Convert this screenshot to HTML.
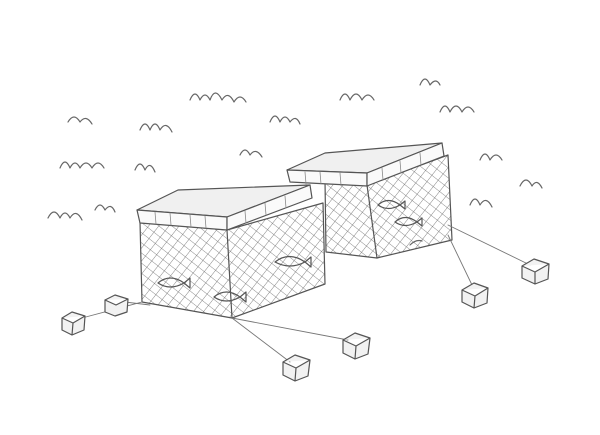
<!DOCTYPE html>
<html><head><meta charset="utf-8"><style>
html,body{margin:0;padding:0;background:#fff;}
svg{display:block}
</style></head><body>
<svg width="600" height="435" viewBox="0 0 600 435" xmlns="http://www.w3.org/2000/svg">
<defs>
<pattern id="net" width="8" height="8" patternUnits="userSpaceOnUse" patternTransform="rotate(38)">
<path d="M0 0 L8 0 M0 0 L0 8" stroke="#666" stroke-width="0.8" fill="none"/>
</pattern>
</defs>
<g fill="none" stroke="#555" stroke-width="1.2" stroke-linecap="round" stroke-linejoin="round">
<g stroke="#666">
<path d="M190 100 q5-12 10 0 q5-10 10 0 q5-14 12 0 q6-10 12 2 q6-10 12 0"/>
<path d="M340 100 q5-12 10 0 q6-12 12 0 q6-10 12 0"/>
<path d="M420 85 q5-12 10 0 q6-8 10 0"/>
<path d="M440 112 q5-12 10 0 q6-12 12 0 q6-10 12 0"/>
<path d="M68 122 q6-10 12 0 q6-8 12 2"/>
<path d="M140 130 q5-12 10 0 q5-12 10 0 q6-10 12 2"/>
<path d="M270 122 q5-12 10 0 q5-10 10 0 q6-8 10 2"/>
<path d="M60 168 q5-12 10 0 q5-10 10 0 q6-10 12 0 q6-10 12 0"/>
<path d="M135 170 q5-12 10 0 q5-10 10 2"/>
<path d="M240 155 q5-10 10 0 q6-8 12 2"/>
<path d="M480 160 q5-12 10 0 q6-10 12 0"/>
<path d="M520 186 q6-12 12 0 q5-8 10 2"/>
<path d="M470 205 q5-12 10 0 q6-10 12 2"/>
<path d="M48 218 q6-12 12 0 q5-10 10 0 q6-10 12 2"/>
<path d="M95 210 q5-10 10 0 q6-8 10 2"/>
<path d="M410 245 q6-6 12 -4"/>
</g>
<!-- left cage body -->
<path d="M140 222 L142 302 L232 318 L325 284 L323 203 L227 230 Z" fill="url(#net)"/>
<path d="M227 230 L232 318"/>
<!-- left lid -->
<path d="M137 210 L178 190 L310 185 L227 217 Z" fill="#f0f0f0"/>
<path d="M137 210 L227 217 L227 230 L140 223 Z" fill="#fafafa"/>
<path d="M227 217 L310 185 L312 198 L227 230 Z" fill="#fafafa"/>
<g stroke="#888" stroke-width="0.8"><path d="M155 212 l1 12 M170 213 l1 12 M190 215 l1 12 M205 216 l1 12 M245 211 l1 12 M265 203 l1 12 M285 196 l1 12"/></g>
<!-- right cage body -->
<path d="M325 180 L326 252 L377 258 L452 240 L448 155 L367 185 Z" fill="url(#net)"/>
<path d="M367 185 L377 258"/>
<!-- right lid -->
<path d="M287 170 L325 153 L442 143 L367 173 Z" fill="#f0f0f0"/>
<path d="M287 170 L367 173 L367 186 L290 182 Z" fill="#fafafa"/>
<path d="M367 173 L442 143 L444 156 L367 186 Z" fill="#fafafa"/>
<g stroke="#888" stroke-width="0.8"><path d="M305 172 l1 12 M320 172 l1 12 M340 173 l1 12 M382 168 l1 12 M400 161 l1 12 M420 153 l1 12"/></g>
<!-- fish -->
<path d="M158 283 q12-10 26 0 q-14 8-26 0 M184 283 l6-5 l0 10 z"/>
<path d="M214 297 q12-10 26 0 q-14 8-26 0 M240 297 l6-5 l0 10 z"/>
<path d="M275 262 q14-11 30 0 q-15 8-30 0 M305 262 l6-5 l0 10 z"/>
<path d="M378 205 q10-9 22 0 q-12 7-22 0 M400 205 l5-4 l0 8 z"/>
<path d="M395 222 q10-9 22 0 q-12 7-22 0 M417 222 l5-4 l0 8 z"/>
<g stroke="#777" stroke-width="0.9">
<path d="M142 302 L82 318 M150 305 L125 302"/>
<path d="M232 318 L290 362 M232 318 L348 340"/>
<path d="M448 235 L472 285 M448 225 L530 265"/>
</g>
<g fill="#f2f2f2">
<path d="M62 318 L72 312 L85 316 L84 330 L72 335 L62 330 Z M62 318 L73 323 L85 316 M73 323 L72 335"/>
<path d="M105 300 L115 295 L128 299 L127 312 L115 316 L105 312 Z M105 300 L116 305 L128 299"/>
<path d="M283 362 L295 355 L310 360 L308 376 L295 381 L283 375 Z M283 362 L296 368 L310 360 M296 368 L295 381"/>
<path d="M343 340 L355 333 L370 338 L368 354 L355 359 L343 353 Z M343 340 L356 346 L370 338 M356 346 L355 359"/>
<path d="M462 290 L474 283 L488 288 L487 303 L474 308 L462 302 Z M462 290 L475 296 L488 288 M475 296 L474 308"/>
<path d="M522 266 L534 259 L549 264 L548 279 L535 284 L522 278 Z M522 266 L535 272 L549 264 M535 272 L535 284"/>
</g>
</g>
</svg>
</body></html>
